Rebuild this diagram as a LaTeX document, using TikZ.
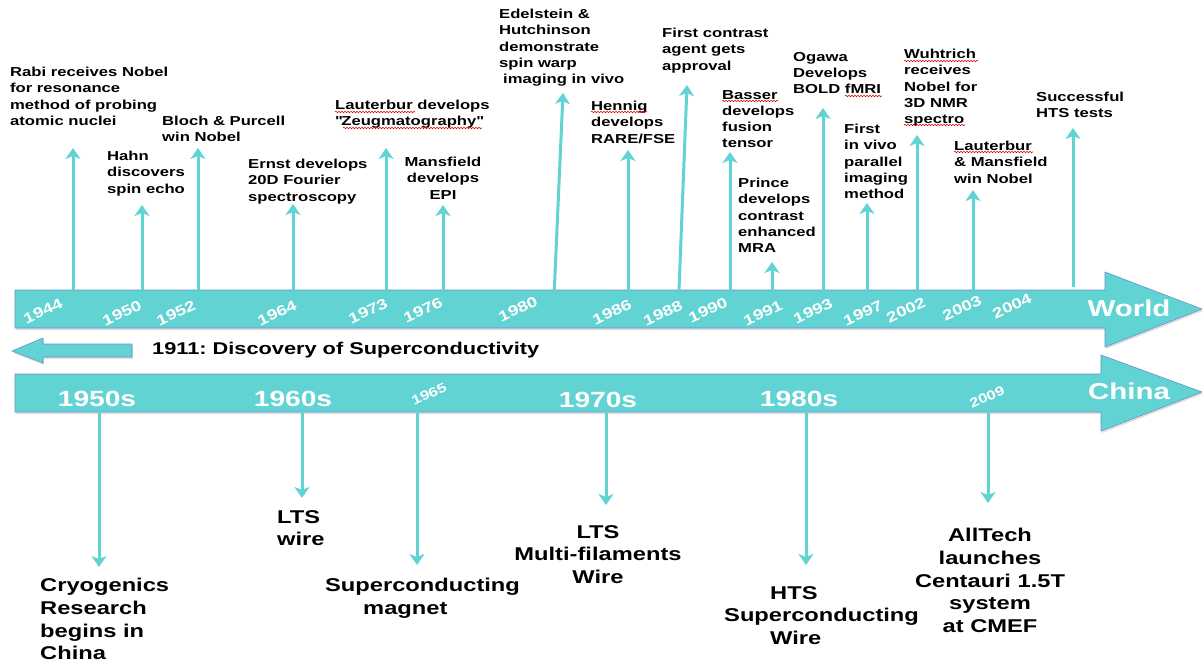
\documentclass[tikz,border=0pt]{standalone}
\usepackage{fontspec}
\setmainfont{Liberation Sans}[FakeStretch=1.28]
\usetikzlibrary{arrows.meta,decorations.pathmorphing,shadows}
\frenchspacing

\definecolor{bandteal}{RGB}{98,211,211}
\definecolor{bandedge}{RGB}{105,145,205}

\tikzset{
  band/.style={fill=bandteal, draw=bandedge, line width=0.6pt,
    drop shadow={opacity=0.25, shadow xshift=1pt, shadow yshift=-2pt}},
  evt/.style={draw=bandteal, line width=3pt, -{Stealth[length=11pt,width=15pt,inset=3pt]}},
  evtxt/.style={font=\fontsize{13}{16.2}\selectfont\bfseries, align=left, inner sep=0pt, anchor=north west},
  bigtxt/.style={font=\fontsize{18.5}{22.7}\selectfont\bfseries, align=left, inner sep=0pt, anchor=north west},
  yr/.style={font=\fontsize{14.5}{14.5}\selectfont\bfseries, text=white, rotate=25, inner sep=0pt},
  decade/.style={font=\fontsize{23}{23}\selectfont\bfseries, text=white, inner sep=0pt},
  squig/.style={draw=red!85!black, line width=0.6pt, decorate,
    decoration={snake, amplitude=0.7pt, segment length=3pt}}
}

\begin{document}
\begin{tikzpicture}[x=1pt,y=-1pt,>=Stealth]
\useasboundingbox (0,0) rectangle (1204,663);

% the two time bands and the 1911 arrow
\draw [band] (15,290) -- (1105,290) -- (1105,272) -- (1202,309) -- (1105,347) -- (1105,328) -- (15,328) -- cycle;
\draw [band] (15,374) -- (1101,374) -- (1101,355) -- (1202,392) -- (1101,431) -- (1101,412) -- (15,412) -- cycle;
\draw [band] (132,344) -- (43,344) -- (43,338) -- (12,351) -- (43,363) -- (43,357) -- (132,357) -- cycle;
\node [anchor=west, inner sep=0pt, font=\fontsize{17}{17}\selectfont\bfseries] (disc) at (152,350) {1911: Discovery of Superconductivity};

% world events
\foreach \n/\bx/\by/\tx/\ty in {44/73/307/73/148, 50/142/302/142/205, 52/198/305/198/148,
    64/293/303/293/204, 73/386/300/386/148, 76/443/300/443/205, 80/554/297/563/93,
    86/628/305/628/150, 88/679/290/687/85, 90/730/310/730/152, 91/772/292/772/262,
    93/823/293/823/108, 97/867/305/867/203, 02/917/300/917/135, 03/973/293/973/190,
    04/1073/287/1073/128} {
  \coordinate (b\n) at (\bx,\by);
  \coordinate (t\n) at (\tx,\ty);
  \draw [evt] (b\n) -- (t\n);
}

\foreach \yr/\px/\py in {1944/43/311, 1950/122/313, 1952/176/313, 1964/277/313, 1973/368/311,
    1976/423/310, 1980/518/309, 1986/612/312, 1988/663/313, 1990/708/310, 1991/763/313,
    1993/813/311, 1997/863/313, 2002/906/310, 2003/962/308, 2004/1012/306}
  \node [yr] (y\yr) at (\px,\py) {\yr};
\node [decade] (world) at (1129,308) {World};

\node [evtxt] (rabi) at (10,67) {Rabi receives Nobel\\for resonance\\method of probing\\atomic nuclei};
\node [evtxt] (hahn) at (107,151) {Hahn\\discovers\\spin echo};
\node [evtxt] (bloch) at (162,116) {Bloch \& Purcell\\win Nobel};
\node [evtxt] (ernst) at (248,159) {Ernst develops\\20D Fourier\\spectroscopy};
\node [evtxt] (zeug) at (335,100) {Lauterbur develops\\\textquotedbl Zeugmatography\textquotedbl};
\node [evtxt, align=center, anchor=north] (epi) at (443,157) {Mansfield\\develops\\EPI};
\node [evtxt] (edel) at (499,9) {Edelstein \&\\Hutchinson\\demonstrate\\spin warp\\\hspace*{4pt}imaging in vivo};
\node [evtxt] (rare) at (591,101) {Hennig\\develops\\RARE/FSE};
\node [evtxt] (agent) at (662,28) {First contrast\\agent gets\\approval};
\node [evtxt] (basser) at (722,90) {Basser\\develops\\fusion\\tensor};
\node [evtxt] (prince) at (738,178) {Prince\\develops\\contrast\\enhanced\\MRA};
\node [evtxt] (ogawa) at (793,52) {Ogawa\\Develops\\BOLD fMRI};
\node [evtxt] (invivo) at (844,124) {First\\in vivo\\parallel\\imaging\\method};
\node [evtxt] (wuh) at (904,49) {Wuhtrich\\receives\\Nobel for\\3D NMR\\spectro};
\node [evtxt] (nobel) at (954,141) {Lauterbur\\\& Mansfield\\win Nobel};
\node [evtxt] (hts) at (1036,92) {Successful\\HTS tests};

% spell-check marks
\draw [squig] (335,112) -- (415,112);
\draw [squig] (343,128) -- (482,128);
\draw [squig] (591,112) -- (647,112);
\draw [squig] (722,101) -- (778,101);
\draw [squig] (845,96) -- (882,96);
\draw [squig] (904,61) -- (978,61);
\draw [squig] (904,125) -- (965,125);
\draw [squig] (954,152) -- (1033,152);

% china events
\foreach \n/\bx/\ty in {50/99/567, 60/302/498, 65/417/565, 70/606/505, 80/806/565, 09/988/503} {
  \coordinate (c\n) at (\bx,408);
  \coordinate (d\n) at (\bx,\ty);
  \draw [evt] (c\n) -- (d\n);
}

\node [decade, font=\fontsize{22}{22}\selectfont\bfseries] (d1950) at (97,399) {1950s};
\node [decade, font=\fontsize{22}{22}\selectfont\bfseries] (d1960) at (293,399) {1960s};
\node [decade, font=\fontsize{22}{22}\selectfont\bfseries] (d1970) at (598,400) {1970s};
\node [decade, font=\fontsize{22}{22}\selectfont\bfseries] (d1980) at (799,399) {1980s};
\node [yr, font=\fontsize{13}{13}\selectfont\bfseries] (y1965) at (429,394) {1965};
\node [yr, font=\fontsize{13}{13}\selectfont\bfseries] (y2009) at (987,397) {2009};
\node [decade] (china) at (1129,391) {China};

\node [bigtxt] (cryo) at (40,578) {Cryogenics\\Research\\begins in\\China};
\node [bigtxt] (lts) at (277,510) {LTS\\wire};
\node [bigtxt] (magnet) at (325,578) {Superconducting\\\hspace*{38pt}magnet};
\node [bigtxt, align=center, anchor=north] (multi) at (598,525) {LTS\\Multi-filaments\\Wire};
\node [bigtxt] (htswire) at (724,586) {\hspace*{46pt}HTS\\Superconducting\\\hspace*{46pt}Wire};
\node [bigtxt, align=center, anchor=north] (alltech) at (990,528) {AllTech\\launches\\Centauri 1.5T\\system\\at CMEF};

\end{tikzpicture}
\end{document}
